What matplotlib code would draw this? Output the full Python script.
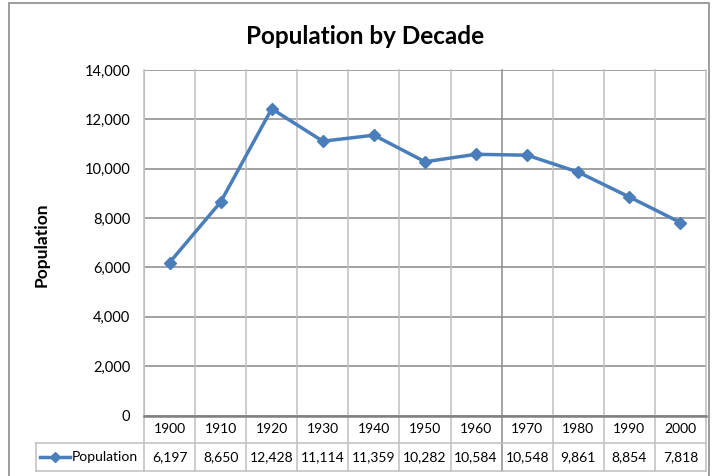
import matplotlib
matplotlib.use('Agg')
import numpy as np
import matplotlib.pyplot as plt
from matplotlib.patches import Rectangle
from matplotlib.ticker import FuncFormatter

plt.rcParams['font.family'] = ['Lato', 'DejaVu Sans']

decades = ['1900', '1910', '1920', '1930', '1940', '1950', '1960', '1970', '1980', '1990', '2000']
population = [6197, 8650, 12428, 11114, 11359, 10282, 10584, 10548, 9861, 8854, 7818]
series_name = 'Population'

W, H = 712, 476
fig = plt.figure(figsize=(W / 100, H / 100), dpi=100)

# plot area in pixels: left 144, right 706, top 70, bottom 415.5
L, R, T, B = 144, 706, 70, 415.5
ax = fig.add_axes([L / W, 1 - B / H, (R - L) / W, (B - T) / H])

blue = '#4A7EBB'
grid_h = '#878787'
grid_v = '#BFBFBF'

x = np.arange(len(decades))
ax.plot(x, population, color=blue, lw=2.5, marker='D', ms=6.5, mec=blue, mfc=blue, zorder=5)

ax.set_xlim(-0.5, len(decades) - 0.5)
ax.set_ylim(0, 14000)
ax.set_yticks(np.arange(0, 14001, 2000))
ax.yaxis.set_major_formatter(FuncFormatter(lambda v, p: f'{int(v):,}'))
ax.tick_params(axis='y', length=0, pad=10, labelsize=10.5)
ax.set_xticks([])
ax.yaxis.grid(True, color=grid_h, lw=1.1)
ax.set_axisbelow(True)
for s in ['top', 'right']:
    ax.spines[s].set_visible(False)
ax.spines['left'].set_color(grid_v)
ax.spines['bottom'].set_color('#808080')
ax.spines['bottom'].set_linewidth(1.8)

# data table below the plot
tr = ax.get_xaxis_transform()
unit = (R - L) / len(decades)
def px2x(px):
    return (px - L) / unit - 0.5
def py2y(py):
    return -(py - B) / (B - T)

row1 = py2y(443)
row2 = py2y(471)
left = px2x(35.7)

for i, b in enumerate(np.arange(-0.5, len(decades), 1)):
    c = '#8C8C8C' if i == 7 else grid_v
    ax.plot([b, b], [1, row2], color=c, lw=1.1, transform=tr, clip_on=False, zorder=1)
for yy in [row1, row2]:
    ax.plot([left, len(decades) - 0.5], [yy, yy], color=grid_v, lw=1.1, transform=tr, clip_on=False)
ax.plot([left, left], [row1, row2], color=grid_v, lw=1.1, transform=tr, clip_on=False)

for i, d in enumerate(decades):
    ax.text(i, (0 + row1) / 2, d, ha='center', va='center', fontsize=10, transform=tr)
    ax.text(i, (row1 + row2) / 2, f'{population[i]:,}', ha='center', va='center', fontsize=10, transform=tr)

ym = (row1 + row2) / 2
ax.plot([px2x(40), px2x(70)], [ym, ym], color=blue, lw=2.5, transform=tr, clip_on=False)
ax.plot([px2x(55)], [ym], color=blue, marker='D', ms=5.5, transform=tr, clip_on=False)
ax.text(px2x(72), ym, series_name, ha='left', va='center', fontsize=10, transform=tr)

fig.text(365 / W, 1 - 37 / H, 'Population by Decade', ha='center', va='center',
         fontsize=17.5, fontweight='bold')
fig.text(42 / W, 1 - 245 / H, 'Population', ha='center', va='center', rotation=90,
         fontsize=12.5, fontweight='bold')

# chart border
fig.patches.append(Rectangle((9 / W, -0.05), 700 / W, 1.05 - 3 / H, transform=fig.transFigure,
                             fill=False, ec='#8C8C8C', lw=1.2))

fig.savefig('out.png', dpi=100)
